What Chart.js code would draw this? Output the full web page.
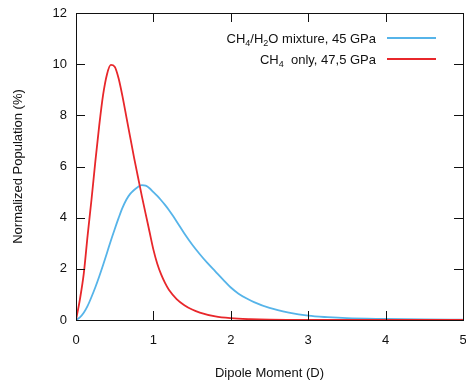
<!DOCTYPE html>
<html>
<head>
<meta charset="utf-8">
<script src="https://cdn.jsdelivr.net/npm/chart.js@4"></script>
<style>
  html, body { margin: 0; padding: 0; background: #fff; overflow: hidden; }
  #wrap { width: 466px; height: 383px; overflow: hidden; }
</style>
</head>
<body>
<div id="wrap"><canvas id="dipoleChart" width="482" height="383"></canvas></div>
<script>
// Dipole moment distributions

// CH4/H2O mixture, 45 GPa (blue)
const mixX = [0, 0.05, 0.1, 0.15, 0.2, 0.25, 0.3, 0.35, 0.4, 0.45, 0.5, 0.55, 0.6, 0.65, 0.7, 0.75, 0.8, 0.85, 0.9, 0.95,
    1.0, 1.05, 1.1, 1.15, 1.2, 1.25, 1.3, 1.4, 1.5, 1.6, 1.7, 1.8, 1.9, 2.0, 2.1, 2.2, 2.3, 2.5, 2.75, 3.0, 3.25, 3.5, 4.0, 4.5, 5.0];
const mixY = [0, 0.1, 0.28, 0.55, 0.9, 1.28, 1.7, 2.15, 2.62, 3.1, 3.55, 3.98, 4.38, 4.7, 4.93, 5.08, 5.2, 5.27, 5.25, 5.15,
    5.0, 4.85, 4.68, 4.5, 4.3, 4.08, 3.85, 3.38, 2.95, 2.57, 2.22, 1.9, 1.58, 1.27, 1.03, 0.85, 0.7, 0.47, 0.29, 0.17, 0.11, 0.07, 0.04, 0.02, 0.01];

// CH4 only, 47,5 GPa (red)
const ch4X = [0, 0.05, 0.1, 0.15, 0.2, 0.25, 0.3, 0.35, 0.4, 0.45, 0.5, 0.55, 0.6, 0.65, 0.7, 0.75, 0.8, 0.85, 0.9, 0.95,
    1.0, 1.05, 1.1, 1.15, 1.2, 1.3, 1.4, 1.5, 1.6, 1.8, 2.0, 2.25, 2.5, 3.0, 4.0, 5.0];
const ch4Y = [0, 0.8, 1.8, 3.3, 4.7, 6.2, 7.6, 8.8, 9.6, 9.97, 9.9, 9.45, 8.75, 7.95, 7.15, 6.35, 5.6, 4.85, 4.15, 3.45,
    2.75, 2.2, 1.78, 1.45, 1.18, 0.82, 0.58, 0.41, 0.29, 0.14, 0.07, 0.03, 0.01, 0, 0, 0];

const xTicks = [0, 1, 2, 3, 4, 5];
const yTicks = [0, 2, 4, 6, 8, 10, 12];

const blue = '#56b4e9';
const red = '#e8272b';
const font = "'Liberation Sans', Arial, sans-serif";

function toPoints(xs, ys) {
    return xs.map((x, i) => ({ x: x, y: ys[i] }));
}

// frame with inward ticks (gnuplot look)
const framePlugin = {
    id: 'frame',
    afterDatasetsDraw(chart) {
        const { ctx, chartArea: a, scales } = chart;
        ctx.save();
        ctx.strokeStyle = '#111';
        ctx.lineWidth = 1;
        ctx.beginPath();
        xTicks.forEach(v => {
            const px = Math.round(scales.x.getPixelForValue(v)) + 0.5;
            ctx.moveTo(px, a.bottom); ctx.lineTo(px, a.bottom - 9);
            ctx.moveTo(px, a.top); ctx.lineTo(px, a.top + 9);
        });
        yTicks.forEach(v => {
            const py = Math.round(scales.y.getPixelForValue(v)) + 0.5;
            ctx.moveTo(a.left, py); ctx.lineTo(a.left + 9, py);
            ctx.moveTo(a.right, py); ctx.lineTo(a.right - 9, py);
        });
        ctx.stroke();
        ctx.strokeRect(Math.round(a.left) + 0.5, Math.round(a.top) + 0.5,
            Math.round(a.right - a.left), Math.round(a.bottom - a.top));
        ctx.restore();
    }
};

// legend with subscripts
function drawRich(ctx, parts, xRight, yMid) {
    const big = '13px ' + font, small = '9px ' + font;
    let w = 0;
    parts.forEach(p => { ctx.font = p.sub ? small : big; w += ctx.measureText(p.t).width; });
    let x = xRight - w;
    parts.forEach(p => {
        ctx.font = p.sub ? small : big;
        ctx.fillText(p.t, x, yMid + (p.sub ? 8 : 5));
        x += ctx.measureText(p.t).width;
    });
}

const legendPlugin = {
    id: 'richLegend',
    afterDraw(chart) {
        const ctx = chart.ctx;
        ctx.save();
        ctx.fillStyle = '#111';
        ctx.textBaseline = 'alphabetic';
        const rows = [
            { color: blue, y: 38, parts: [{ t: 'CH' }, { t: '4', sub: true }, { t: '/H' }, { t: '2', sub: true }, { t: 'O mixture, 45 GPa' }] },
            { color: red, y: 59, parts: [{ t: 'CH' }, { t: '4', sub: true }, { t: '  only, 47,5 GPa' }] }
        ];
        rows.forEach(r => {
            drawRich(ctx, r.parts, 376, r.y);
            ctx.strokeStyle = r.color;
            ctx.lineWidth = 1.8;
            ctx.beginPath();
            ctx.moveTo(387, r.y);
            ctx.lineTo(436, r.y);
            ctx.stroke();
        });
        ctx.restore();
    }
};

const ctx = document.getElementById('dipoleChart').getContext('2d');
new Chart(ctx, {
    type: 'scatter',
    data: {
        datasets: [{
            label: 'CH4/H2O mixture, 45 GPa',
            data: toPoints(mixX, mixY),
            showLine: true,
            borderColor: blue,
            borderWidth: 1.8,
            pointRadius: 0,
            cubicInterpolationMode: 'monotone',
            order: 2
        }, {
            label: 'CH4 only, 47,5 GPa',
            data: toPoints(ch4X, ch4Y),
            showLine: true,
            borderColor: red,
            borderWidth: 1.8,
            pointRadius: 0,
            cubicInterpolationMode: 'monotone',
            order: 1
        }]
    },
    options: {
        responsive: false,
        animation: false,
        layout: { padding: { left: 0, right: 19, top: 13, bottom: 0 } },
        plugins: {
            legend: { display: false },
            tooltip: { enabled: false }
        },
        scales: {
            x: {
                type: 'linear',
                min: 0,
                max: 5,
                afterFit: s => { s.height = 63; },
                afterBuildTicks: s => { s.ticks = xTicks.map(v => ({ value: v })); },
                grid: { display: false, drawTicks: false },
                border: { display: false },
                ticks: { padding: 13, color: '#111', font: { family: font, size: 13 } },
                title: {
                    display: true,
                    text: 'Dipole Moment (D)',
                    color: '#111',
                    font: { family: font, size: 13 },
                    padding: { top: 0, bottom: 2 }
                }
            },
            y: {
                min: 0,
                max: 12,
                afterFit: s => { s.width = 76; },
                afterBuildTicks: s => { s.ticks = yTicks.map(v => ({ value: v })); },
                grid: { display: false, drawTicks: false },
                border: { display: false },
                ticks: { padding: 9, color: '#111', font: { family: font, size: 13, lineHeight: 0.5 } },
                title: {
                    display: true,
                    text: 'Normalized Population (%)',
                    color: '#111',
                    font: { family: font, size: 13 },
                    padding: { top: 11, bottom: 0 }
                }
            }
        }
    },
    plugins: [framePlugin, legendPlugin]
});
</script>
</body>
</html>
